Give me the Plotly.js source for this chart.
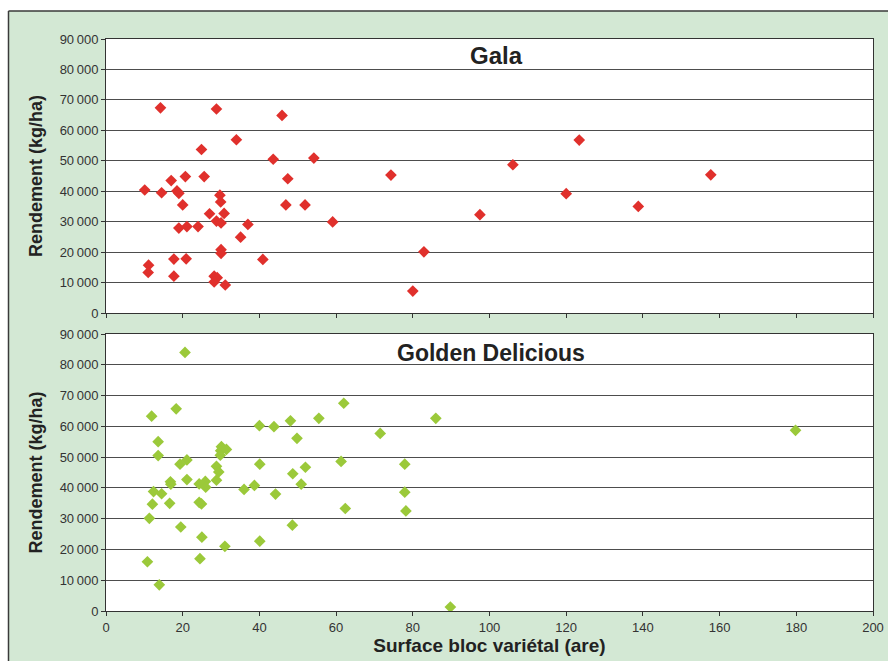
<!DOCTYPE html>
<html>
<head>
<meta charset="utf-8">
<script src="https://cdn.plot.ly/plotly-3.0.1.min.js"></script>
<style>html,body{margin:0;padding:0;background:#fff;}#chart{width:888px;height:661px;}</style>
</head>
<body>
<div id="chart"></div>
<script>
// Gala: surface (are) and yield (kg/ha)
var galaSurface = [14.2, 28.8, 45.9, 34.0, 24.9, 43.6, 54.2, 20.7, 25.6, 47.4, 17.0, 10.1, 14.5, 18.5, 19.0, 29.7, 29.9, 20.0, 46.9, 51.9, 27.0, 30.8, 28.8, 30.0, 37.0, 59.1, 19.0, 21.1, 24.0, 35.1, 30.0, 30.0, 17.7, 20.9, 40.9, 11.1, 11.0, 17.7, 28.2, 29.0, 28.2, 31.1, 74.3, 123.4, 106.1, 157.7, 120.0, 138.8, 97.5, 82.9, 80.0];
var galaYield = [67400, 67000, 64900, 56900, 53700, 50500, 50900, 44800, 44800, 44100, 43500, 40400, 39500, 40100, 39300, 38700, 36500, 35500, 35500, 35500, 32600, 32700, 30200, 29600, 29100, 29900, 27900, 28400, 28400, 24900, 20800, 19600, 17700, 17800, 17600, 15700, 13300, 12100, 12100, 11600, 10200, 9200, 45300, 56800, 48700, 45400, 39200, 35000, 32300, 20100, 7200];

// Golden Delicious
var goldenSurface = [20.6, 18.3, 11.9, 13.6, 13.6, 19.3, 21.1, 21.1, 16.8, 16.9, 12.4, 14.5, 12.1, 16.6, 11.3, 19.5, 10.8, 13.9, 25.0, 24.5, 31.0, 24.3, 24.9, 24.3, 25.9, 26.0, 28.8, 29.4, 28.8, 30.1, 29.9, 29.8, 31.4, 36.0, 38.7, 40.0, 40.1, 40.1, 43.8, 44.2, 48.1, 48.7, 48.6, 49.8, 50.9, 52.0, 55.5, 62.0, 61.3, 62.4, 71.5, 86.0, 77.9, 77.9, 78.2, 89.8, 179.8];
var goldenYield = [84000, 65700, 63300, 55000, 50500, 47700, 49100, 42700, 42000, 41200, 38800, 38100, 34700, 35000, 30100, 27300, 16000, 8500, 24000, 17000, 21000, 35300, 34800, 41300, 42100, 40200, 47000, 45200, 42500, 53400, 52100, 50600, 52500, 39500, 40800, 60200, 47700, 22700, 59900, 38000, 61800, 44600, 27900, 56100, 41200, 46700, 62600, 67500, 48600, 33300, 57700, 62600, 47700, 38600, 32500, 1300, 58700];

var panelTitles = ["Gala", "Golden Delicious"];
var yTitle = "Rendement (kg/ha)";
var xTitle = "Surface bloc variétal (are)";

var W = 888, H = 661;
var mL = 106, mR = 15, mT = 39, mB = 50;
var pw = W - mL - mR, ph = H - mT - mB;
function px2fx(p){ return (p - mL) / pw; }
function py2fy(p){ return (H - mB - p) / ph; }

var FONT = "Liberation Sans, Arial, sans-serif";
var dark = "#333333";
var grid = "#4d4d4d";
var frameCol = "#3a3a3a";

var traces = [
  {x: galaSurface, y: galaYield, type: "scatter", mode: "markers", xaxis: "x", yaxis: "y",
   marker: {symbol: "diamond", size: 9, color: "#e0302c"}, hoverinfo: "x+y"},
  {x: goldenSurface, y: goldenYield, type: "scatter", mode: "markers", xaxis: "x2", yaxis: "y2",
   marker: {symbol: "diamond", size: 9, color: "#9bc93a"}, hoverinfo: "x+y"}
];

function xa(showLabels, anchor, title){
  var a = {range: [0, 200], dtick: 20, tick0: 0, showgrid: false, zeroline: false,
    showline: true, mirror: true, linecolor: dark, linewidth: 1,
    ticks: "outside", ticklen: 4, tickcolor: dark, showticklabels: showLabels,
    tickfont: {family: FONT, size: 13, color: dark}, anchor: anchor, fixedrange: true};
  if (title) a.title = {text: title, font: {family: FONT, size: 19, color: "#222", weight: "bold"}, standoff: 3};
  return a;
}
function ya(domain, anchor){
  return {range: [0, 90000], dtick: 10000, tick0: 0, domain: domain, anchor: anchor,
    tickformat: ",d", showgrid: true, gridcolor: grid, gridwidth: 1, zeroline: false,
    showline: true, mirror: true, linecolor: dark, linewidth: 1,
    ticks: "outside", ticklen: 4, tickcolor: dark,
    tickfont: {family: FONT, size: 13, color: dark}, fixedrange: true,
    title: {text: yTitle, font: {family: FONT, size: 18, color: "#222", weight: "bold"}, standoff: 12}};
}

layout = {
  width: W, height: H,
  margin: {l: mL, r: mR, t: mT, b: mB, pad: 0},
  paper_bgcolor: "#d3e8d4",
  plot_bgcolor: "#ffffff",
  separators: ".\u2009",
  showlegend: false,
  xaxis: xa(false, "y"),
  yaxis: ya([py2fy(313), 1], "x"),
  xaxis2: xa(true, "y2", xTitle),
  yaxis2: ya([0, py2fy(334)], "x2"),
  shapes: [
    // white strip above the frame
    {type: "rect", xref: "paper", yref: "paper", layer: "above",
     x0: px2fx(-5), x1: px2fx(900), y0: py2fy(11), y1: py2fy(-5),
     fillcolor: "#ffffff", line: {width: 0}},
    // white strip left of the frame
    {type: "rect", xref: "paper", yref: "paper", layer: "above",
     x0: px2fx(-5), x1: px2fx(8.5), y0: py2fy(700), y1: py2fy(-5),
     fillcolor: "#ffffff", line: {width: 0}},
    // frame lines
    {type: "line", xref: "paper", yref: "paper", layer: "above",
     x0: px2fx(8.5), x1: px2fx(900), y0: py2fy(11), y1: py2fy(11),
     line: {color: frameCol, width: 1.5}},
    {type: "line", xref: "paper", yref: "paper", layer: "above",
     x0: px2fx(8.5), x1: px2fx(8.5), y0: py2fy(11), y1: py2fy(700),
     line: {color: frameCol, width: 1.5}}
  ],
  annotations: [
    {text: panelTitles[0], xref: "paper", yref: "paper", x: px2fx(497), y: py2fy(55),
     xanchor: "center", yanchor: "middle", showarrow: false,
     font: {family: FONT, size: 24, color: "#222", weight: "bold"}},
    {text: panelTitles[1], xref: "paper", yref: "paper", x: px2fx(491), y: py2fy(353),
     xanchor: "center", yanchor: "middle", showarrow: false,
     font: {family: FONT, size: 23, color: "#222", weight: "bold"}}
  ]
};

Plotly.newPlot("chart", traces, layout, {displayModeBar: false, staticPlot: true});
</script>
</body>
</html>
